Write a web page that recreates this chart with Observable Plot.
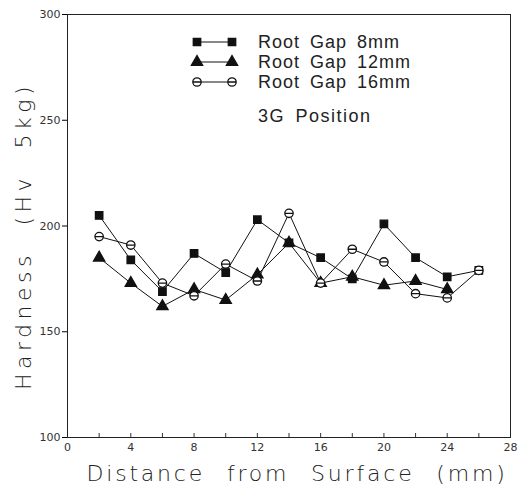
<!DOCTYPE html>
<html>
<head>
<meta charset="utf-8">
<script src="https://cdn.jsdelivr.net/npm/d3@7"></script>
<script src="https://cdn.jsdelivr.net/npm/@observablehq/plot@0.6"></script>
<style>
  body { margin: 0; background: #fff; }
  #chart svg { display: block; }
</style>
</head>
<body>
<div id="chart"></div>
<script>
// ---- data ----
const distance = [2, 4, 6, 8, 10, 12, 14, 16, 18, 20, 22, 24, 26];
const gap8mm  = [205, 184, 169, 187, 178, 203, 192, 185, 175, 201, 185, 176, 179];
const gap12mm = [185, 173, 162, 170, 165, 177, 192, 173, 176, 172, 174, 170];
const gap16mm = [195, 191, 173, 167, 182, 174, 206, 173, 189, 183, 168, 166, 179];
const seriesNames = ["Root Gap 8mm", "Root Gap 12mm", "Root Gap 16mm"];
const xTickLabels = [0, 4, 8, 12, 16, 20, 24, 28];
const xMinorTicks = [2, 4, 6, 8, 10, 12, 14, 16, 18, 20, 22, 24, 26];
const yTickLabels = [100, 150, 200, 250, 300];
const xTitle = "Distance from Surface (mm)";
const yTitle = "Hardness (Hv 5kg)";
const note = "3G Position";

const rows = [];
[gap8mm, gap12mm, gap16mm].forEach((vals, i) => {
  vals.forEach((v, j) => rows.push({x: distance[j], y: v, s: seriesNames[i]}));
});

const circleBar = {
  draw(ctx, size) {
    const r = Math.sqrt(size / Math.PI);
    ctx.moveTo(r, 0);
    ctx.arc(0, 0, r, 0, 2 * Math.PI);
    ctx.moveTo(-r, 0);
    ctx.lineTo(r, 0);
  }
};
const boxGrid = {
  draw(ctx, size) {
    const h = Math.sqrt(size) / 2;
    ctx.rect(-h, -h, 2 * h, 2 * h);
    ctx.moveTo(0, -h); ctx.lineTo(0, h);
    ctx.moveTo(-h, 0); ctx.lineTo(h, 0);
  }
};
const styles = {
  "Root Gap 8mm":  {symbol: boxGrid, fill: "#111", stroke: "#111"},
  "Root Gap 12mm": {symbol: "triangle", fill: "#111", stroke: "#111"},
  "Root Gap 16mm": {symbol: circleBar, fill: "#fff", stroke: "#111"}
};
const R = 4.2;

const font = "'DejaVu Sans', sans-serif";
const legendFont = "'Liberation Sans', Arial, sans-serif";
const marks = [
  Plot.frame({stroke: "#222", strokeWidth: 1}),
  Plot.axisX({ticks: xTickLabels, tickSize: 0, tickPadding: 6, label: null,
              fontSize: 11, fill: "#333", fontFamily: font}),
  Plot.axisX({ticks: xMinorTicks, tickSize: -4, tickFormat: () => "", label: null, stroke: "#333"}),
  Plot.axisY({ticks: yTickLabels, tickSize: 5, tickPadding: 2, label: null,
              fontSize: 11, fill: "#333", fontFamily: font}),
  Plot.text([xTitle], {frameAnchor: "bottom", dy: 43, dx: 8, fontSize: 22, fill: "#222",
                       fontFamily: font, fontWeight: 300}),
  Plot.text([yTitle], {frameAnchor: "left", dx: -44, dy: 10, rotate: -90, textAnchor: "middle",
                       fontSize: 22, fill: "#222", fontFamily: font, fontWeight: 300})
];
seriesNames.forEach(name => {
  const data = rows.filter(d => d.s === name);
  marks.push(Plot.line(data, {x: "x", y: "y", stroke: "#111", strokeWidth: 1}));
});
seriesNames.forEach(name => {
  const data = rows.filter(d => d.s === name);
  const st = styles[name];
  marks.push(Plot.dot(data, {x: "x", y: "y", r: R, symbol: st.symbol, fill: st.fill,
                             stroke: st.stroke, strokeWidth: 1.3}));
});

const chart = Plot.plot({
  width: 521, height: 489,
  marginLeft: 67, marginRight: 11, marginTop: 14, marginBottom: 52,
  style: {background: "#fff", fontFamily: font},
  x: {domain: [0, 28]},
  y: {domain: [100, 300]},
  marks
});
document.getElementById("chart").appendChild(chart);

const svg = d3.select(chart);
// drop empty tick texts of the minor-tick axis
svg.selectAll("text").filter(function () { return this.textContent.trim() === ""; }).remove();
// spacing on titles
svg.selectAll("text").filter(function () { return this.textContent === yTitle; })
  .style("letter-spacing", "4.5px").style("word-spacing", "14px");
svg.selectAll("text").filter(function () { return this.textContent === xTitle; })
  .style("letter-spacing", "2.8px").style("word-spacing", "12px");

// ---- legend (inside plot, top) ----
const lg = svg.append("g").attr("text-anchor", "start");
const rowY = [42, 62, 82];
seriesNames.forEach((name, i) => {
  const st = styles[name];
  const y = rowY[i];
  lg.append("line").attr("x1", 197).attr("x2", 232).attr("y1", y).attr("y2", y)
    .attr("stroke", "#111").attr("stroke-width", 1);
  const sym = d3.symbol(st.symbol === "triangle" ? d3.symbolTriangle : st.symbol, Math.PI * R * R);
  [197, 232].forEach(x => {
    lg.append("path").attr("d", sym()).attr("transform", `translate(${x},${y})`)
      .attr("fill", st.fill).attr("stroke", st.stroke).attr("stroke-width", 1.3);
  });
  lg.append("text").attr("x", 258).attr("y", y).attr("dy", "0.35em")
    .attr("font-family", legendFont).attr("font-size", 18)
    .attr("fill", "#222").style("letter-spacing", "1px").style("word-spacing", "4px")
    .text(name);
});
lg.append("text").attr("x", 258).attr("y", 116).attr("dy", "0.35em")
  .attr("font-family", legendFont).attr("font-size", 18)
  .attr("fill", "#222").style("letter-spacing", "1.5px").style("word-spacing", "4px")
  .text(note);
</script>
</body>
</html>
